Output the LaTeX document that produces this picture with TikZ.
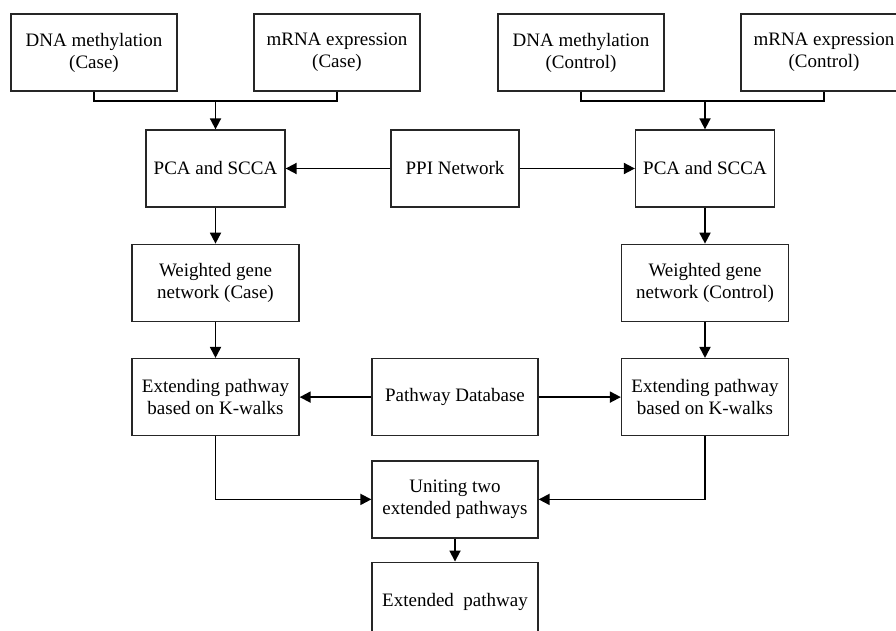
\documentclass[tikz,border=0pt]{standalone}
\usepackage{fontspec}
\setmainfont{Liberation Serif}
\usetikzlibrary{arrows.meta, positioning}
\tikzset{
  box/.style  = {rectangle, draw=black!85, line width=1.3pt, fill=white,
                 minimum width=166pt, minimum height=77pt, inner sep=2pt,
                 font=\fontsize{19}{22}\selectfont, align=center},
  pca/.style  = {box, minimum width=139pt},
  src/.style  = {box, minimum width=128pt},
  arr/.style  = {-{Triangle[length=11pt, width=11pt]}, line width=1.8pt},
  lnk/.style  = {line width=1.8pt},
}

\begin{document}
\begin{tikzpicture}[x=1pt, y=1pt, node distance=36pt]
  \useasboundingbox (0,0) rectangle (896,-631);

  % input data
  \node[box] (dmcase) at (94,-52.5)  {DNA methylation\\(Case)};
  \node[box] (mrcase) at (337,-52.5) {mRNA expression\\(Case)};
  \node[box] (dmctrl) at (581,-52.5) {DNA methylation\\(Control)};
  \node[box] (mrctrl) at (824,-52.5) {mRNA expression\\(Control)};

  % networks
  \node[pca] (pcacase) at (215.5,-168.5) {PCA and SCCA};
  \node[src] (ppi)     at (455,-168.5)   {PPI Network};
  \node[pca] (pcactrl) at (705,-168.5)   {PCA and SCCA};
  \node[box, minimum width=167pt, below=of pcacase] (wgcase) {Weighted gene\\network (Case)};
  \node[box, minimum width=167pt, below=of pcactrl] (wgctrl) {Weighted gene\\network (Control)};

  % pathways
  \node[box, minimum width=167pt, below=of wgcase] (extcase) {Extending pathway\\based on K-walks};
  \node[box, minimum width=167pt, below=of wgctrl] (extctrl) {Extending pathway\\based on K-walks};
  \node[box] (pdb) at (extcase -| ppi) {Pathway Database};
  \node[box, below=24pt of pdb] (unite) {Uniting two\\extended pathways};
  \node[box, minimum height=79pt, below=23pt of unite] (result) {Extended\ \ pathway};

  \coordinate[above=28pt of pcacase] (jcase);
  \coordinate[above=28pt of pcactrl] (jctrl);
  \draw[lnk] (dmcase.south) |- (jcase) -| (mrcase.south);
  \draw[lnk] (dmctrl.south) |- (jctrl) -| (mrctrl.south);

  \foreach \i/\j in {jcase/pcacase, jctrl/pcactrl, ppi/pcacase, ppi/pcactrl,
                     pcacase/wgcase, pcactrl/wgctrl, wgcase/extcase, wgctrl/extctrl,
                     pdb/extcase, pdb/extctrl, unite/result}
    \draw[arr] (\i) -- (\j);

  \draw[arr] (extcase.south) |- (unite.west);
  \draw[arr] (extctrl.south) |- (unite.east);

\end{tikzpicture}
\end{document}
